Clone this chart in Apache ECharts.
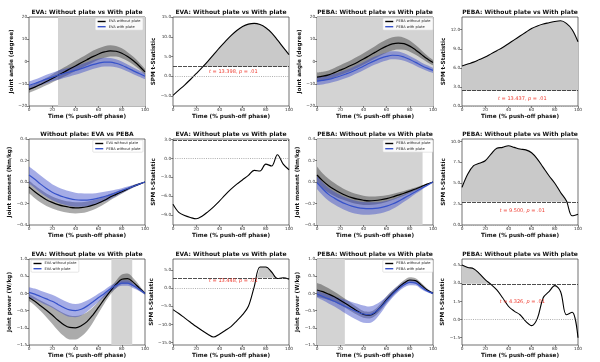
<!DOCTYPE html>
<html><head><meta charset="utf-8">
<script src="https://cdn.jsdelivr.net/npm/echarts@6/dist/echarts.min.js"></script>
<style>html,body{margin:0;padding:0;background:#fff}#c{width:600px;height:362px}</style>
</head><body><div id="c"></div>
<script>
// ---------------- DATA ----------------
const xPct = [0,5,10,15,20,25,30,35,40,45,50,55,60,65,70,75,80,85,90,95,100];
const xTicks = [0,20,40,60,80,100];

// Row 1: joint angle (degree)
const evaAngleNoPlateMean = [-12.5,-11.5,-10.3,-9.0,-7.6,-6.2,-4.8,-3.4,-2.0,-0.6,0.8,2.2,3.4,4.3,4.8,4.6,3.7,2.2,0.3,-2.0,-4.7];
const evaAngleNoPlateSD   = [1.5,1.5,1.6,1.7,1.8,2.0,2.1,2.2,2.3,2.4,2.5,2.6,2.6,2.6,2.5,2.4,2.2,2.0,1.8,1.5,1.3];
const evaAngleWithMean    = [-10.8,-9.9,-8.9,-7.9,-7.0,-6.2,-5.4,-4.7,-4.0,-3.2,-2.3,-1.4,-0.7,-0.3,-0.3,-0.8,-1.7,-2.9,-4.2,-5.4,-6.6];
const evaAngleWithSD      = [1.8,1.8,1.8,1.9,1.9,2.0,2.0,2.0,2.0,2.0,2.0,2.0,2.0,2.0,1.9,1.8,1.7,1.6,1.5,1.4,1.3];
const spmEvaAngle         = [-4.8,-3.5,-2.2,-0.8,0.7,2.2,3.8,5.5,7.2,8.8,10.3,11.6,12.6,13.2,13.4,13.1,12.3,11.0,9.2,7.3,5.5];
const pebaAngleNoPlateMean = [-7.0,-6.6,-6.0,-5.0,-3.9,-2.8,-1.6,-0.3,1.1,2.6,4.1,5.6,6.9,7.9,8.3,8.0,6.9,5.2,3.2,1.2,-0.5];
const pebaAngleNoPlateSD   = [2.0,2.0,2.0,2.1,2.2,2.3,2.4,2.5,2.6,2.7,2.8,2.9,3.0,3.0,2.9,2.7,2.5,2.2,1.9,1.5,1.2];
const pebaAngleWithMean    = [-8.8,-8.5,-8.0,-7.3,-6.5,-5.6,-4.6,-3.4,-2.1,-0.8,0.4,1.5,2.3,2.8,2.7,2.0,0.9,-0.4,-1.8,-3.0,-4.0];
const pebaAngleWithSD      = [1.8,1.8,1.8,1.8,1.8,1.8,1.8,1.8,1.8,1.8,1.8,1.8,1.8,1.8,1.8,1.7,1.6,1.5,1.4,1.3,1.2];
const spmPebaAngle         = [6.3,6.6,6.9,7.3,7.7,8.2,8.7,9.2,9.8,10.4,11.0,11.6,12.2,12.6,12.9,13.1,13.3,13.4,13.0,12.0,10.1];

// Row 2: joint moment (Nm/kg)
const evaMomentNoPlateMean  = [-0.045,-0.09,-0.13,-0.165,-0.19,-0.21,-0.225,-0.235,-0.24,-0.238,-0.23,-0.215,-0.195,-0.17,-0.14,-0.115,-0.09,-0.065,-0.04,-0.02,0.0];
const evaMomentNoPlateSD    = [0.06,0.06,0.06,0.058,0.056,0.055,0.054,0.053,0.052,0.05,0.048,0.045,0.04,0.035,0.03,0.025,0.02,0.015,0.012,0.008,0.005];
const pebaMomentNoPlateMean = [0.065,0.025,-0.02,-0.06,-0.095,-0.12,-0.14,-0.155,-0.165,-0.168,-0.168,-0.162,-0.15,-0.135,-0.12,-0.1,-0.08,-0.06,-0.04,-0.02,0.0];
const pebaMomentNoPlateSD   = [0.08,0.08,0.08,0.078,0.075,0.072,0.07,0.068,0.066,0.063,0.06,0.055,0.05,0.045,0.038,0.03,0.023,0.017,0.012,0.008,0.005];
const spmEvaMoment          = [-7.3,-8.6,-9.1,-9.4,-9.6,-9.2,-8.5,-7.7,-6.8,-5.8,-4.9,-4.1,-3.4,-2.7,-1.9,-2.0,-0.9,-1.2,0.6,-0.9,-1.8];
const pebaMomentNoPlate2Mean = [0.065,0.01,-0.035,-0.07,-0.1,-0.125,-0.145,-0.16,-0.17,-0.175,-0.172,-0.165,-0.155,-0.14,-0.122,-0.105,-0.085,-0.065,-0.043,-0.02,0.0];
const pebaMomentNoPlate2SD   = [0.08,0.07,0.065,0.06,0.055,0.05,0.048,0.045,0.043,0.04,0.038,0.035,0.032,0.028,0.025,0.022,0.018,0.014,0.01,0.007,0.005];
const pebaMomentWithMean     = [-0.005,-0.065,-0.115,-0.15,-0.18,-0.205,-0.225,-0.238,-0.245,-0.247,-0.245,-0.238,-0.225,-0.205,-0.18,-0.15,-0.12,-0.09,-0.06,-0.03,0.0];
const pebaMomentWithSD       = [0.06,0.06,0.06,0.06,0.06,0.06,0.06,0.06,0.06,0.058,0.056,0.053,0.05,0.045,0.04,0.034,0.028,0.02,0.014,0.009,0.005];
const spmPebaMoment          = [4.5,6.1,7.1,7.4,7.7,8.5,9.2,9.3,9.5,9.3,9.1,9.0,8.65,7.9,6.9,5.9,5.0,3.9,2.9,1.1,1.3];

// Row 3: joint power (W/kg)
const evaPowerNoPlateMean = [-0.12,-0.23,-0.36,-0.49,-0.63,-0.78,-0.91,-0.99,-1.0,-0.94,-0.82,-0.63,-0.4,-0.16,0.06,0.26,0.41,0.43,0.32,0.16,0.0];
const evaPowerNoPlateSD   = [0.1,0.12,0.15,0.2,0.25,0.3,0.33,0.35,0.34,0.31,0.27,0.22,0.17,0.13,0.1,0.11,0.14,0.15,0.12,0.08,0.03];
const evaPowerWithMean    = [0.03,-0.02,-0.09,-0.16,-0.23,-0.32,-0.41,-0.48,-0.5,-0.46,-0.37,-0.25,-0.12,0.0,0.13,0.23,0.3,0.3,0.22,0.12,0.0];
const evaPowerWithSD      = [0.15,0.16,0.17,0.18,0.19,0.2,0.2,0.2,0.19,0.18,0.16,0.14,0.12,0.1,0.09,0.08,0.08,0.08,0.07,0.05,0.03];
const spmEvaPower         = [-5.9,-7.0,-8.2,-9.4,-10.6,-11.7,-12.7,-13.5,-12.7,-11.7,-10.6,-9.0,-7.3,-5.0,0.4,5.9,5.9,4.5,2.7,2.9,2.5];
const pebaPowerNoPlateMean = [0.1,0.05,-0.02,-0.1,-0.2,-0.3,-0.41,-0.52,-0.61,-0.63,-0.56,-0.39,-0.18,0.0,0.16,0.3,0.39,0.37,0.24,0.1,0.0];
const pebaPowerNoPlateSD   = [0.2,0.19,0.17,0.15,0.14,0.13,0.12,0.11,0.1,0.1,0.1,0.1,0.1,0.09,0.08,0.08,0.08,0.07,0.06,0.04,0.02];
const pebaPowerWithMean    = [-0.02,-0.09,-0.16,-0.23,-0.31,-0.39,-0.47,-0.54,-0.6,-0.62,-0.55,-0.4,-0.21,-0.03,0.13,0.25,0.32,0.3,0.18,0.07,0.0];
const pebaPowerWithSD      = [0.1,0.11,0.13,0.15,0.17,0.2,0.22,0.24,0.25,0.24,0.22,0.17,0.12,0.1,0.09,0.08,0.08,0.07,0.06,0.04,0.03];
const spmPebaPower         = [4.5,4.3,4.2,3.8,3.3,2.9,2.45,1.8,1.1,0.7,0.4,-0.15,-0.5,0.1,1.8,2.3,2.8,2.3,0.4,0.6,-1.5];

// significant regions (% push-off) shaded in the mean plots
const sigEvaAngle = [25, 100];
const sigPebaAngle = [0, 100];
const sigPebaMoment = [0, 91];
const sigEvaPower = [71, 89];
const sigPebaPower = [0, 24];

// SPM thresholds & results
const thrEvaAngle = 2.43, thrPebaAngle = 2.4, thrEvaMoment = 2.95, thrPebaMoment = 2.78, thrEvaPower = 2.9, thrPebaPower = 2.95;
const statEvaAngle = ['13.398', '.01'];
const statPebaAngle = ['13.437', '.01'];
const statPebaMoment = ['9.500', '.01'];
const statEvaPower = ['13.448', '.01'];
const statPebaPower = ['4.326', '.01'];

// axis tick labels
const yTicksAngle = [-20,-10,0,10,20];
const yTicksMoment = [-0.4,-0.2,0,0.2,0.4];
const yTicksPower = [-1.5,-1.0,-0.5,0,0.5,1.0];
const yTicksSpmEvaAngle = [-5,0,5,10,15];
const yTicksSpmPebaAngle = [0,3,6,9,12];
const yTicksSpmEvaMoment = [-9,-6,-3,0,3];
const yTicksSpmPebaMoment = [0,2.5,5,7.5,10];
const yTicksSpmEvaPower = [-15,-10,-5,0,5];
const yTicksSpmPebaPower = [-1.5,0,1.5,3,4.5];

const titles = [
  'EVA: Without plate vs With plate','EVA: Without plate vs With plate','PEBA: Without plate vs With plate','PEBA: Without plate vs With plate',
  'Without plate: EVA vs PEBA','EVA: Without plate vs With plate','PEBA: Without plate vs With plate','PEBA: Without plate vs With plate',
  'EVA: Without plate vs With plate','EVA: Without plate vs With plate','PEBA: Without plate vs With plate','PEBA: Without plate vs With plate'
];
const xName = 'Time (% push-off phase)';

// ---------------- BUILD ----------------
const FONT = 'DejaVu Sans';
const colLeft = [29, 173, 317, 462];
const rowTop = [17, 139, 259];
const rowH = [89, 86, 86];
const W = 116;
const SM = 0.35;
const BLACK = '#000000', BLUE = '#3652c9';
const GRAYBAND = 'rgba(0,0,0,0.33)', BLUEBAND = 'rgba(55,70,200,0.45)';
const SIG = '#d3d3d3', SPMFILL = '#c9c9c9', RED = '#ee3a2e';

const grids = [], xAxes = [], yAxes = [], series = [], legends = [], graphics = [];

function fmt(dec) {
  return v => (dec === 0 ? String(Math.round(v)) : v.toFixed(dec)).replace('-', '\u2212');
}

function addPanel(k, yMin, yMax, ticks, dec, yName, nameGap) {
  const r = Math.floor(k / 4), c = k % 4;
  grids.push({left: colLeft[c], top: rowTop[r], width: W, height: rowH[r], show: true,
    borderColor: '#333', borderWidth: 0.7, backgroundColor: 'rgba(0,0,0,0)', containLabel: false});
  xAxes.push({gridIndex: k, type: 'value', min: 0, max: 100, interval: 20,
    axisLine: {show: false, onZero: false}, splitLine: {show: false},
    axisTick: {show: true, length: 2, lineStyle: {color: '#333', width: 0.6}},
    axisLabel: {fontSize: 4.3, margin: 1.8, color: '#333', fontFamily: FONT},
    name: xName, nameLocation: 'middle', nameGap: 7.5,
    nameTextStyle: {fontSize: 5.7, fontWeight: 'bold', fontFamily: FONT, color: '#111'}});
  yAxes.push({gridIndex: k, type: 'value', min: yMin, max: yMax,
    axisLine: {show: false, onZero: false}, splitLine: {show: false},
    axisTick: {show: true, length: 2, customValues: ticks, lineStyle: {color: '#333', width: 0.6}},
    axisLabel: {customValues: ticks, formatter: fmt(dec), fontSize: 4.3, margin: 1.8, color: '#333', fontFamily: FONT},
    name: yName, nameLocation: 'middle', nameGap: nameGap,
    nameTextStyle: {fontSize: 5.7, fontWeight: 'bold', fontFamily: FONT, color: '#111'}});
  graphics.push({type: 'text', x: colLeft[c] + W / 2, y: rowTop[r] - 4.5, z: 100,
    style: {text: titles[k], textAlign: 'center', textVerticalAlign: 'middle',
      font: 'bold 6px "DejaVu Sans"', fill: '#111'}});
}

function pts(vals) { return xPct.map((x, i) => [x, vals[i]]); }
// stacked helpers: value first, x second (so the stack runs on the y dimension)
const ENC = {x: 1, y: 0};

function meanPanel(k, A, B, sig, legendPos) {
  const groups = [A, B];
  groups.forEach((g, j) => {
    const lower = {type: 'line', xAxisIndex: k, yAxisIndex: k, stack: 'band' + k + '_' + j, stackStrategy: 'all',
      encode: ENC, data: xPct.map((x, i) => [g.mean[i] - g.sd[i], x]), symbol: 'none', smooth: SM, silent: true,
      lineStyle: {opacity: 0}, z: 1};
    if (j === 0 && sig) {
      lower.markArea = {silent: true, animation: false, itemStyle: {color: SIG},
        data: [[{xAxis: sig[0]}, {xAxis: sig[1]}]]};
    }
    series.push(lower);
    series.push({type: 'line', xAxisIndex: k, yAxisIndex: k, stack: 'band' + k + '_' + j, stackStrategy: 'all',
      encode: ENC, data: xPct.map((x, i) => [2 * g.sd[i], x]), symbol: 'none', smooth: SM, silent: true,
      lineStyle: {opacity: 0}, areaStyle: {color: g.band, opacity: 1}, z: 2});
  });
  groups.forEach(g => {
    series.push({type: 'line', name: g.name, xAxisIndex: k, yAxisIndex: k, data: pts(g.mean),
      symbol: 'none', smooth: SM, lineStyle: {color: g.color, width: 1.2}, itemStyle: {color: g.color}, z: 3});
  });
  legends.push(Object.assign({
    orient: 'vertical', icon: 'rect', itemWidth: 8, itemHeight: 1.4, itemGap: 1.2,
    padding: [1.5, 2.5], borderColor: '#cccccc', borderWidth: 0.5, borderRadius: 1,
    backgroundColor: 'rgba(255,255,255,0.85)', selectedMode: false,
    textStyle: {fontSize: 3.6, fontFamily: FONT, color: '#222', padding: [0, 0, 0, -2]},
    data: groups.map(g => ({name: g.name, itemStyle: {color: g.color}, lineStyle: {color: g.color}}))
  }, legendPos));
}

function spmPanel(k, vals, thr, stat, textY) {
  const line = {type: 'line', xAxisIndex: k, yAxisIndex: k, data: pts(vals), symbol: 'none', smooth: SM,
    lineStyle: {color: BLACK, width: 1.1}, z: 4, silent: true,
    markLine: {silent: true, animation: false, symbol: 'none', label: {show: false},
      data: [
        {yAxis: thr, lineStyle: {color: '#222', type: [4, 1], width: 0.8}},
        {yAxis: 0, lineStyle: {color: '#9a9a9a', type: [1, 1.2], width: 0.8}}
      ]}};
  if (stat) {
    line.markPoint = {silent: true, animation: false, data: [{coord: [52, textY], symbol: 'circle', symbolSize: 0,
      label: {show: true, position: 'inside', color: RED, fontSize: 5, fontFamily: FONT,
        formatter: '{i|t} = ' + stat[0] + ', {i|p} = ' + stat[1],
        rich: {i: {fontStyle: 'italic', color: RED, fontSize: 5, fontFamily: FONT}}}}]};
  }
  series.push(line);
  // supra-threshold fill (built from vals with crossing points)
  const fx = [];
  for (let i = 0; i < xPct.length; i++) {
    fx.push([xPct[i], vals[i]]);
    if (i < xPct.length - 1) {
      const a = vals[i] - thr, b = vals[i + 1] - thr;
      if (a * b < 0) { const t = a / (a - b); fx.push([xPct[i] + t * (xPct[i + 1] - xPct[i]), thr]); }
    }
  }
  if (fx.some(p => p[1] > thr)) {
    series.push({type: 'line', xAxisIndex: k, yAxisIndex: k, stack: 'fill' + k, stackStrategy: 'all',
      encode: ENC, data: fx.map(p => [thr, p[0]]), symbol: 'none', lineStyle: {opacity: 0}, silent: true, z: 1});
    series.push({type: 'line', xAxisIndex: k, yAxisIndex: k, stack: 'fill' + k, stackStrategy: 'all',
      encode: ENC, data: fx.map(p => [Math.max(p[1] - thr, 0), p[0]]), symbol: 'none', lineStyle: {opacity: 0},
      areaStyle: {color: SPMFILL, opacity: 1}, silent: true, z: 1});
  }
}

// Row 1
addPanel(0, -20, 20, yTicksAngle, 0, 'Joint angle (degree)', 13);
meanPanel(0, {name: 'EVA without plate', mean: evaAngleNoPlateMean, sd: evaAngleNoPlateSD, color: BLACK, band: GRAYBAND},
  {name: 'EVA with plate', mean: evaAngleWithMean, sd: evaAngleWithSD, color: BLUE, band: BLUEBAND}, sigEvaAngle, {right: 457, top: 18});
addPanel(1, -7.5, 15, yTicksSpmEvaAngle, 1, 'SPM t-Statistic', 12);
spmPanel(1, spmEvaAngle, thrEvaAngle, statEvaAngle, 1.2);
addPanel(2, -20, 20, yTicksAngle, 0, 'Joint angle (degree)', 9);
meanPanel(2, {name: 'PEBA without plate', mean: pebaAngleNoPlateMean, sd: pebaAngleNoPlateSD, color: BLACK, band: GRAYBAND},
  {name: 'PEBA with plate', mean: pebaAngleWithMean, sd: pebaAngleWithSD, color: BLUE, band: BLUEBAND}, sigPebaAngle, {right: 167, top: 18});
addPanel(3, 0, 14, yTicksSpmPebaAngle, 1, 'SPM t-Statistic', 12);
spmPanel(3, spmPebaAngle, thrPebaAngle, statPebaAngle, 1.1);
// Row 2
addPanel(4, -0.4, 0.4, yTicksMoment, 1, 'Joint moment (Nm/kg)', 13);
meanPanel(4, {name: 'EVA without plate', mean: evaMomentNoPlateMean, sd: evaMomentNoPlateSD, color: BLACK, band: GRAYBAND},
  {name: 'PEBA without plate', mean: pebaMomentNoPlateMean, sd: pebaMomentNoPlateSD, color: BLUE, band: BLUEBAND}, null, {right: 457, top: 140});
addPanel(5, -10.6, 3.1, yTicksSpmEvaMoment, 1, 'SPM t-Statistic', 12);
spmPanel(5, spmEvaMoment, thrEvaMoment, null, 0);
addPanel(6, -0.4, 0.4, yTicksMoment, 1, 'Joint moment (Nm/kg)', 9);
meanPanel(6, {name: 'PEBA without plate', mean: pebaMomentNoPlate2Mean, sd: pebaMomentNoPlate2SD, color: BLACK, band: GRAYBAND},
  {name: 'PEBA with plate', mean: pebaMomentWithMean, sd: pebaMomentWithSD, color: BLUE, band: BLUEBAND}, sigPebaMoment, {right: 167, top: 140});
addPanel(7, 0, 10.3, yTicksSpmPebaMoment, 1, 'SPM t-Statistic', 12);
spmPanel(7, spmPebaMoment, thrPebaMoment, statPebaMoment, 1.7);
// Row 3
addPanel(8, -1.5, 1.0, yTicksPower, 1, 'Joint power (W/kg)', 13);
meanPanel(8, {name: 'EVA without plate', mean: evaPowerNoPlateMean, sd: evaPowerNoPlateSD, color: BLACK, band: GRAYBAND},
  {name: 'EVA with plate', mean: evaPowerWithMean, sd: evaPowerWithSD, color: BLUE, band: BLUEBAND}, sigEvaPower, {left: 31, top: 260});
addPanel(9, -15.7, 8.1, yTicksSpmEvaPower, 1, 'SPM t-Statistic', 12);
spmPanel(9, spmEvaPower, thrEvaPower, statEvaPower, 2.0);
addPanel(10, -1.5, 1.0, yTicksPower, 1, 'Joint power (W/kg)', 9);
meanPanel(10, {name: 'PEBA without plate', mean: pebaPowerNoPlateMean, sd: pebaPowerNoPlateSD, color: BLACK, band: GRAYBAND},
  {name: 'PEBA with plate', mean: pebaPowerWithMean, sd: pebaPowerWithSD, color: BLUE, band: BLUEBAND}, sigPebaPower, {right: 167, top: 260});
addPanel(11, -2.1, 5.0, yTicksSpmPebaPower, 1, 'SPM t-Statistic', 12);
spmPanel(11, spmPebaPower, thrPebaPower, statPebaPower, 1.5);

const chart = echarts.init(document.getElementById('c'), null, {renderer: 'canvas', width: 600, height: 362});
chart.setOption({
  animation: false,
  backgroundColor: '#ffffff',
  textStyle: {fontFamily: FONT},
  grid: grids, xAxis: xAxes, yAxis: yAxes, series: series, legend: legends, graphic: graphics
});
</script></body></html>
